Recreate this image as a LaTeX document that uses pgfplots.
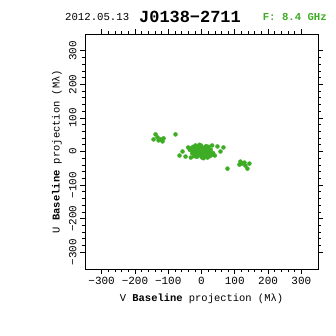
\documentclass[border=0pt]{standalone}
\usepackage{pgfplots}
\pgfplotsset{compat=1.18}
\usepackage{fontspec}
\setmainfont{Liberation Mono}
\definecolor{uvgreen}{RGB}{62,172,36}
\begin{document}
\begin{tikzpicture}[x=1bp,y=1bp]
\useasboundingbox (0,0) rectangle (336,336);
\begin{axis}[at={(85bp,67bp)}, anchor=south west, scale only axis,
  width=233bp, height=235bp,
  xmin=-350, xmax=350, ymin=-350, ymax=350,
  xtick={-300,-200,-100,0,100,200,300},
  ytick={-300,-200,-100,0,100,200,300},
  xticklabels={−300,−200,−100,0,100,200,300},
  yticklabels={−300,−200,−100,0,100,200,300},
  minor tick num=4, tick align=outside,
  major tick length=5bp, minor tick length=3bp,
  axis line style={line width=0.7pt},
  every tick/.style={line width=0.6pt, black},
  ticklabel style={font=\fontsize{11}{11}\selectfont},
  yticklabel style={rotate=90, anchor=south},
  label style={font=\fontsize{10.5}{12}\selectfont},
  xlabel={V \textbf{Baseline} projection (Mλ)},
  ylabel={U \textbf{Baseline} projection (Mλ)},
  xlabel style={at={(axis description cs:0.5,-0.127)}, anchor=center},
  ylabel style={at={(axis description cs:-0.12,0.5)}, anchor=center},
]
\addplot[only marks, mark=*, mark size=2pt, color=uvgreen, mark options={fill=uvgreen, draw=uvgreen}] coordinates {
(-138,51) (-144,36) (-129,33) (-114,39) (-117,30) (-78,51) (-132,42) (-122,36)
(138,-51) (144,-36) (129,-33) (114,-39) (117,-30) (78,-51) (132,-42) (122,-36)
(-57,0) (-66,-12) (-48,-15) (32,18) (17,-15)
(57,0) (66,12) (48,15) (-32,-18) (-17,15)
(-30,10) (-25,0) (-20,-8) (-15,12) (-12,5) (-10,-5) (-8,15) (-5,0) (-3,-12) (0,8) (5,4) (8,-8) (10,10) (-35,5) (-22,-14) (-18,18) (-28,-5) (-6,20) (2,-18) (15,2) (-40,12) (-14,-16)
(30,-10) (25,0) (20,8) (15,-12) (12,-5) (10,5) (8,-15) (5,0) (3,12) (0,-8) (-5,-4) (-8,8) (-10,-10) (35,-5) (22,14) (18,-18) (28,5) (6,-20) (-2,18) (-15,-2) (40,-12) (14,16)
(-20,4) (20,-4) (-12,-12) (12,12) (-25,14) (25,-14) (0,14) (0,-14)
};
\end{axis}
\node[anchor=west, inner sep=0, font=\fontsize{10.7}{12}\selectfont] at (65,319) {2012.05.13};
\node[inner sep=0, font=\bfseries\fontsize{17}{18}\selectfont] at (190,319) {J0138−2711};
\node[anchor=east, inner sep=0, text=uvgreen, font=\bfseries\fontsize{10.7}{12}\selectfont] at (327,319) {F: 8.4 GHz};
\end{tikzpicture}
\end{document}
